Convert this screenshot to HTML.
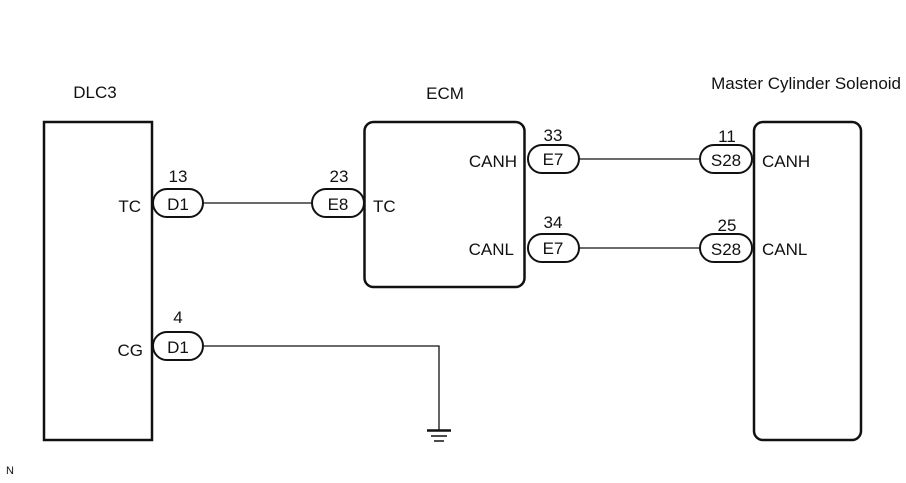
<!DOCTYPE html>
<html><head><meta charset="utf-8"><style>
html,body{margin:0;padding:0;background:#fff;}
svg{display:block;}
text{font-family:"Liberation Sans",Arial,sans-serif;font-size:17px;fill:#111;}
</style></head><body>
<svg width="906" height="483" viewBox="0 0 906 483" xmlns="http://www.w3.org/2000/svg">
<g fill="none" stroke="#111">
<rect x="44" y="122" width="108" height="318" stroke-width="2.5"/>
<rect x="364.5" y="122" width="160" height="165" rx="9" stroke-width="2.5"/>
<rect x="754" y="122" width="107" height="318" rx="9" stroke-width="2.5"/>
<g stroke-width="1.3">
<line x1="203" y1="203" x2="312" y2="203"/>
<line x1="579" y1="159" x2="700" y2="159"/>
<line x1="579" y1="248" x2="700" y2="248"/>
<polyline points="203,346 439,346 439,430"/>
</g>
<line x1="427" y1="430.5" x2="451" y2="430.5" stroke-width="2.5"/>
<line x1="431" y1="436" x2="447" y2="436" stroke-width="1.5"/>
<line x1="434" y1="441" x2="444" y2="441" stroke-width="1.5"/>
<g stroke-width="2">
<rect x="153" y="189" width="50" height="28" rx="14"/>
<rect x="312" y="189" width="52" height="28" rx="14"/>
<rect x="153" y="332" width="50" height="28" rx="14"/>
<rect x="528" y="145" width="51" height="28" rx="14"/>
<rect x="528" y="234" width="51" height="28" rx="14"/>
<rect x="700" y="145" width="52" height="28" rx="14"/>
<rect x="700" y="234" width="52" height="28" rx="14"/>
</g>
</g>
<text x="95" y="98" text-anchor="middle">DLC3</text>
<text x="445" y="99" text-anchor="middle">ECM</text>
<text x="901" y="89" text-anchor="end">Master Cylinder Solenoid</text>
<g text-anchor="middle">
<text x="178" y="182">13</text>
<text x="339" y="182">23</text>
<text x="178" y="323">4</text>
<text x="553" y="141">33</text>
<text x="727" y="142">11</text>
<text x="553" y="228">34</text>
<text x="727" y="231">25</text>
<text x="178" y="210">D1</text>
<text x="338" y="210">E8</text>
<text x="178" y="353">D1</text>
<text x="553" y="165">E7</text>
<text x="553" y="254">E7</text>
<text x="726" y="166">S28</text>
<text x="726" y="255">S28</text>
</g>
<g text-anchor="end">
<text x="141" y="212">TC</text>
<text x="143" y="356">CG</text>
<text x="517" y="167">CANH</text>
<text x="514" y="255">CANL</text>
</g>
<text x="373" y="212">TC</text>
<text x="762" y="167">CANH</text>
<text x="762" y="255">CANL</text>
<text x="6" y="474" style="font-size:11px">N</text>
</svg>
</body></html>
